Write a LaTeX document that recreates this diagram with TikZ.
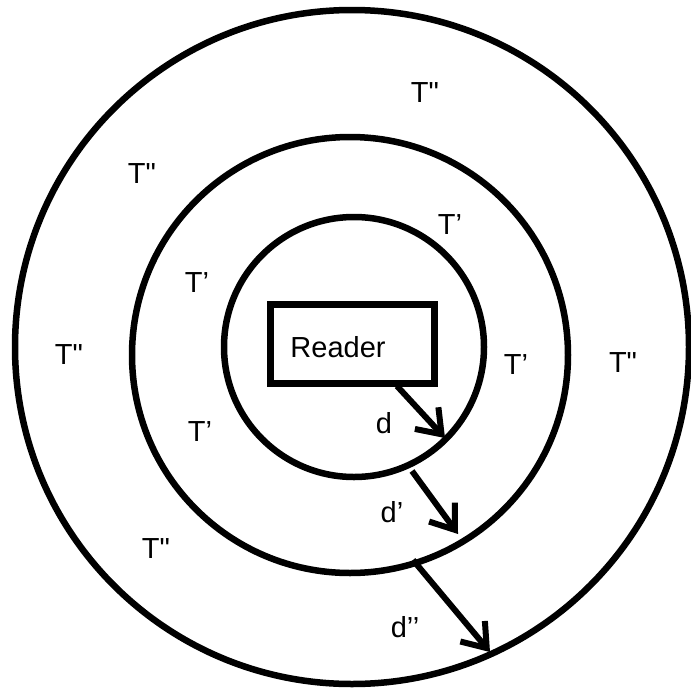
\documentclass[tikz,border=0pt]{standalone}
\usepackage{fontspec}
\setmainfont{Liberation Sans}
\usetikzlibrary{arrows.meta, positioning}

\tikzset{
    ring/.style={line width=6.5pt},
    zone/.style={inner sep=0pt, font=\fontsize{29}{34}\selectfont},
    dist/.style={line width=6pt, -{Straight Barb[length=22pt, width=32pt, line width=6pt]}}
}

\begin{document}
\begin{tikzpicture}[x=1pt, y=-1pt]
    \useasboundingbox (0, 0) rectangle (691, 694);

    % Rings (inner, middle, outer)
    \draw[ring] (354, 347) circle (130);
    \draw[ring] (350, 355) circle (218);
    \draw[ring] (352, 347) circle (337);

    % Reader box
    \node[draw, line width=7pt, minimum width=164pt, minimum height=79pt, inner sep=0pt] (reader) at (352, 344) {};
    \node[zone] (readertxt) at (338, 347) {Reader};

    % Zone labels
    \node[zone] (tpp1) at (425, 93) {T\textquotedbl};
    \node[zone] (tpp2) at (142, 174) {T\textquotedbl};
    \node[zone] (tpp3) at (69, 355) {T\textquotedbl};
    \node[zone] (tpp4) at (623, 363) {T\textquotedbl};
    \node[zone] (tpp5) at (156, 549) {T\textquotedbl};
    \node[zone] (tp1) at (450, 225) {T’};
    \node[zone] (tp2) at (197, 283) {T’};
    \node[zone] (tp3) at (516, 365) {T’};
    \node[zone] (tp4) at (200, 432) {T’};

    % Distance labels
    \node[zone] (dlab) at (384, 423) {d};
    \node[zone] (dplab) at (392, 512) {d’};
    \node[zone] (dpplab) at (405, 627) {d’’};

    % Arrow ends
    \coordinate (d0) at (397, 386);
    \coordinate (d1) at (445, 438);
    \coordinate (dp0) at (412, 471);
    \coordinate (dp1) at (458, 534);
    \coordinate (dpp0) at (413, 560);
    \coordinate (dpp1) at (490, 652);

    % Arrows
    \draw[dist] (d0) -- (d1);
    \draw[dist] (dp0) -- (dp1);
    \draw[dist] (dpp0) -- (dpp1);
\end{tikzpicture}
\end{document}
